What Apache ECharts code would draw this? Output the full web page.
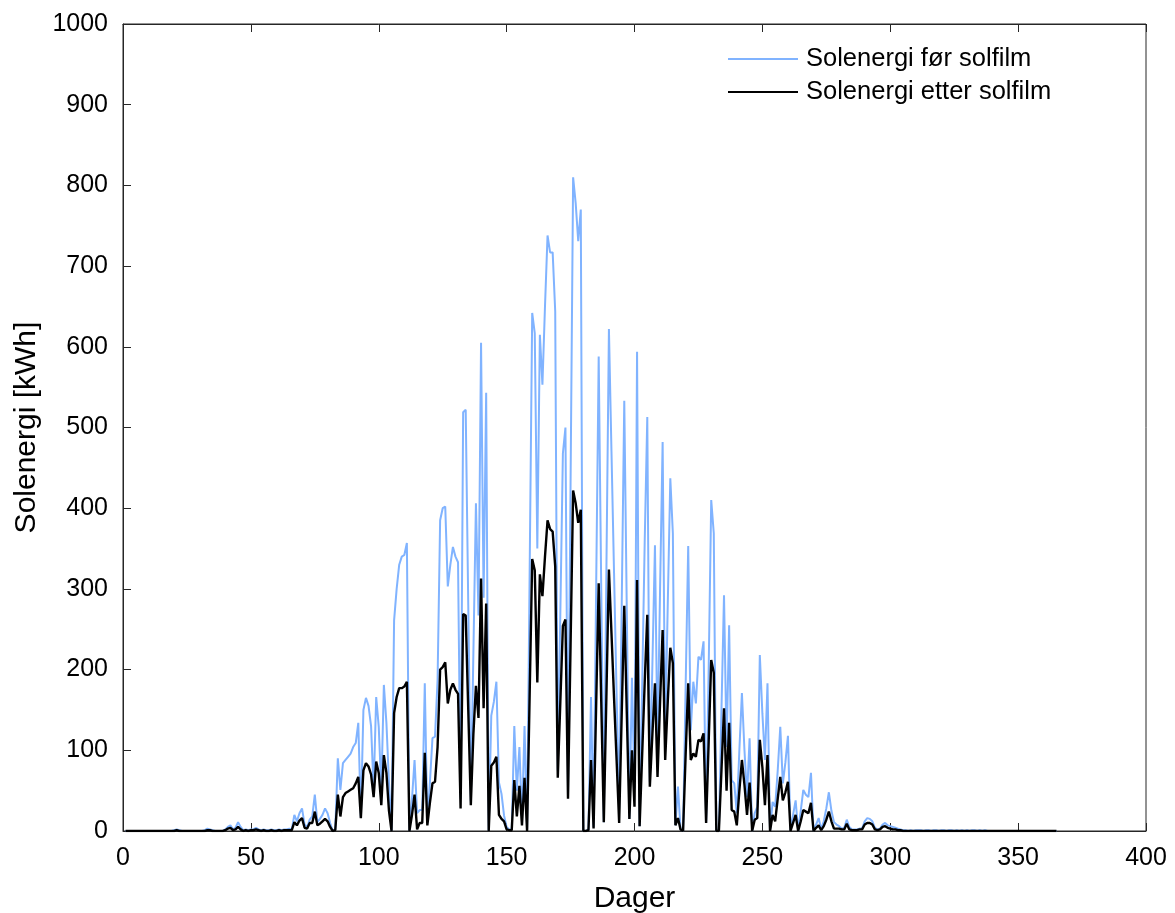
<!DOCTYPE html>
<html>
<head>
<meta charset="utf-8">
<script src="https://cdn.jsdelivr.net/npm/echarts@6/dist/echarts.min.js"></script>
<style>
html,body{margin:0;padding:0;background:#fff;}
#chart{width:1175px;height:913px;}
</style>
</head>
<body>
<div id="chart"></div>
<script>
// Day numbers 1..365
const days = Array.from({length: 365}, (_, i) => i + 1);

// Solenergi før solfilm (kWh), one value per day
const before = [
  0,0,0,0,0,0,0,0,0,0,
  0,0,0,0,0,0,0,0,0,1,
  2,1,0,0,0,0,0,0,0,0,
  0,1,3,2,1,0,0,0,0,2,
  5,7,2,4,11,5,1,2,1,2,
  2,4,2,1,2,1,1,2,1,1,
  2,1,2,2,3,2,20,12,22,28,
  8,5,14,18,45,11,15,20,28,22,
  10,0,2,90,51,84,88,92,96,104,
  109,134,17,150,165,155,130,51,166,129,
  51,181,134,60,0,261,300,330,340,342,
  357,0,40,88,22,26,26,183,10,60,
  115,117,187,385,400,402,303,330,352,340,
  333,40,519,522,280,37,220,406,267,605,
  289,543,0,143,160,185,60,46,19,5,
  2,2,130,50,104,13,130,2,320,642,
  617,350,615,553,650,738,717,717,644,75,
  270,468,500,42,430,810,778,731,770,0,
  0,2,166,5,300,588,300,11,320,622,
  470,320,170,28,280,533,270,15,190,53,
  594,6,180,360,513,61,207,354,104,300,
  482,117,280,437,369,7,55,2,0,180,
  353,125,185,158,216,212,235,10,200,410,
  369,0,0,150,292,104,255,63,59,22,
  100,171,100,42,115,0,22,30,218,146,
  88,183,0,36,30,75,129,59,85,118,
  1,20,38,0,25,51,45,42,72,0,
  8,16,2,12,28,48,25,11,8,6,
  3,4,14,5,2,2,2,3,3,12,
  16,15,12,4,2,3,8,10,7,6,
  5,4,3,2,1,1,0,1,0,1,
  1,1,0,1,1,0,1,1,0,1,
  1,0,1,1,0,1,0,1,0,1,
  0,1,1,0,1,0,1,0,0,0,
  0,0,0,0,0,0,0,0,0,0,
  0,0,0,0,0,0,0,0,0,0,
  0,0,0,0,0
];

// Solenergi etter solfilm (kWh), one value per day
const after = [
  0,0,0,0,0,0,0,0,0,0,
  0,0,0,0,0,0,0,0,0,0,
  1,0,0,0,0,0,0,0,0,0,
  0,0,1,1,0,0,0,0,0,1,
  3,4,1,2,5,2,0,1,0,1,
  1,2,1,0,1,0,0,1,0,0,
  1,0,1,1,1,1,11,7,13,16,
  4,3,10,10,24,7,9,12,15,12,
  5,0,1,45,18,42,47,49,51,53,
  59,67,16,75,84,80,70,42,86,72,
  32,94,72,25,0,146,166,177,177,179,
  185,0,20,45,2,10,10,97,7,35,
  59,61,104,200,203,209,158,175,183,175,
  170,28,269,267,150,32,120,180,140,313,
  152,282,0,81,85,92,20,15,12,2,
  1,1,63,18,56,7,66,0,168,337,
  323,184,318,291,340,385,374,371,328,66,
  160,254,262,40,230,422,406,382,398,0,
  0,1,88,3,155,307,160,11,165,324,
  245,165,88,10,145,279,145,15,100,30,
  311,6,95,185,268,55,120,183,67,160,
  249,88,160,227,208,7,16,2,0,95,
  183,88,96,92,113,111,121,10,110,212,
  196,0,0,75,152,50,134,26,24,7,
  50,88,57,20,60,0,14,16,113,79,
  32,94,0,20,12,40,67,38,48,61,
  0,10,20,0,12,26,24,22,35,0,
  4,7,1,6,14,24,12,3,3,3,
  2,2,9,2,1,1,1,2,2,8,
  10,10,8,2,1,2,5,6,4,3,
  2,2,1,1,0,0,0,0,0,0,
  0,0,0,0,0,0,0,0,0,0,
  0,0,0,0,0,0,0,0,0,0,
  0,0,0,0,0,0,0,0,0,0,
  0,0,0,0,0,0,0,0,0,0,
  0,0,0,0,0,0,0,0,0,0,
  0,0,0,0,0
];

const seriesNames = ['Solenergi før solfilm', 'Solenergi etter solfilm'];
const xLabel = 'Dager';
const yLabel = 'Solenergi [kWh]';

const FONT = '"Liberation Sans", Helvetica, Arial, sans-serif';
const AX = '#262626';
const BLUE = '#80b3ff';
const BLACK = '#000000';

const chart = echarts.init(document.getElementById('chart'), null, {renderer: 'canvas'});

const pairs = arr => days.map((d, i) => [d, arr[i]]);

chart.setOption({
  animation: false,
  backgroundColor: '#fff',
  grid: {left: 123, right: 29, top: 24, bottom: 82, show: true, borderColor: AX, borderWidth: 1,
         backgroundColor: 'transparent', containLabel: false, outerBoundsMode: 'none'},
  legend: {
    orient: 'vertical', left: 728, top: 46, padding: 0, icon: 'rect', itemWidth: 70, itemHeight: 2, itemGap: 7,
    textStyle: {fontFamily: FONT, fontSize: 25.5, lineHeight: 25, color: '#000', padding: [0,0,0,3]},
    data: seriesNames
  },
  xAxis: [{
    type: 'value', min: 0, max: 400, interval: 50,
    name: xLabel, nameLocation: 'middle', nameGap: 53,
    nameTextStyle: {fontFamily: FONT, fontSize: 30, color: '#000'},
    axisLine: {show: true, lineStyle: {color: AX, width: 1}},
    axisTick: {show: true, inside: true, length: 8, lineStyle: {color: AX}},
    axisLabel: {fontFamily: FONT, fontSize: 25, color: '#000', margin: 15},
    splitLine: {show: false}
  }, {
    type: 'value', min: 0, max: 400, interval: 50, position: 'top',
    axisLine: {show: true, lineStyle: {color: AX, width: 1}},
    axisTick: {show: true, inside: true, length: 8, lineStyle: {color: AX}},
    axisLabel: {show: false}, splitLine: {show: false}
  }],
  yAxis: [{
    type: 'value', min: 0, max: 1000, interval: 100,
    name: yLabel, nameLocation: 'middle', nameGap: 81,
    nameTextStyle: {fontFamily: FONT, fontSize: 30, color: '#000'},
    axisLine: {show: true, lineStyle: {color: AX, width: 1}},
    axisTick: {show: true, inside: true, length: 8, lineStyle: {color: AX}},
    axisLabel: {fontFamily: FONT, fontSize: 25, color: '#000', margin: 15, formatter: v => String(v)},
    splitLine: {show: false}
  }],
  series: [{
    name: seriesNames[0], type: 'line', data: pairs(before),
    symbol: 'none', color: BLUE,
    lineStyle: {color: BLUE, width: 2}, z: 2
  }, {
    name: seriesNames[1], type: 'line', data: pairs(after),
    symbol: 'none', color: BLACK,
    lineStyle: {color: BLACK, width: 2.4}, z: 3
  }]
});
</script>
</body>
</html>
